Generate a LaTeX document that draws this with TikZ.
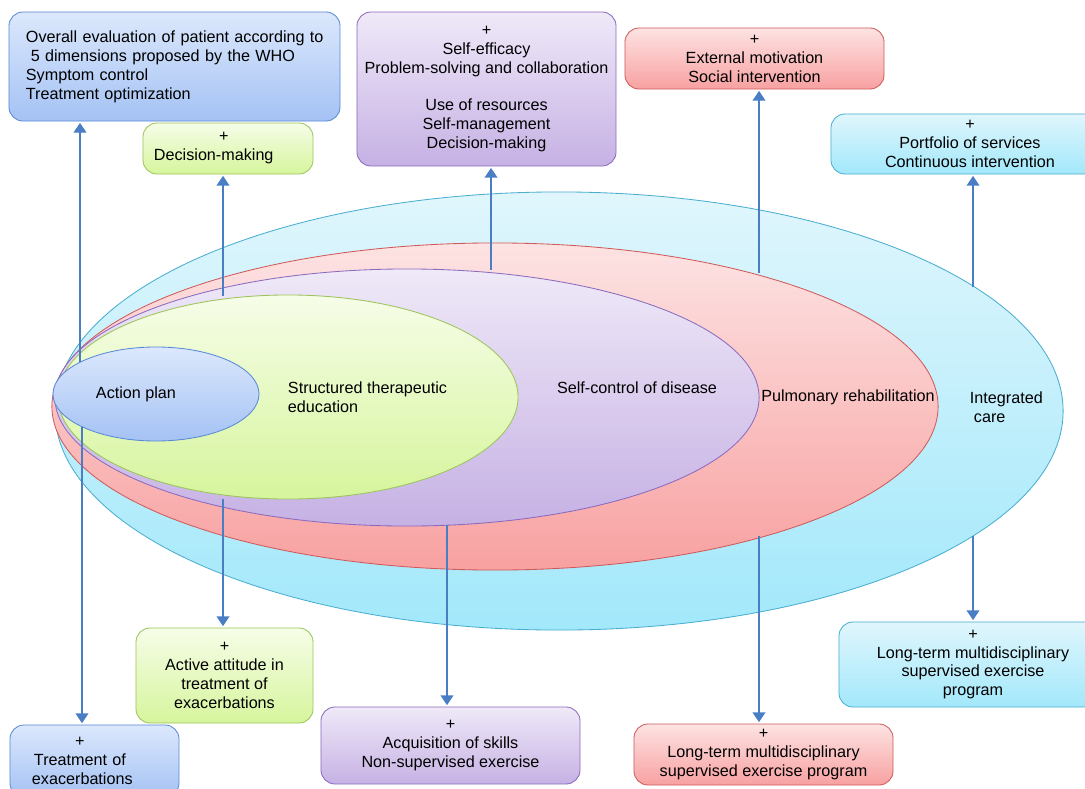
\documentclass[tikz,border=0pt]{standalone}
\usepackage{fontspec}
\setmainfont{Liberation Sans}
\usepackage{xcolor}
\usepackage{tikz}
\usetikzlibrary{shapes.geometric}
\usetikzlibrary{arrows.meta}

\definecolor{cyanline}{HTML}{4AAED0}
\definecolor{cyantop}{HTML}{E0F6FC}
\definecolor{cyanbot}{HTML}{A2E8FB}
\definecolor{redline}{HTML}{D05A5A}
\definecolor{redtop}{HTML}{FDE3E3}
\definecolor{redbot}{HTML}{F8A1A1}
\definecolor{purpline}{HTML}{8A6BBD}
\definecolor{purptop}{HTML}{EFE9F8}
\definecolor{purpbot}{HTML}{C6B1E4}
\definecolor{greenline}{HTML}{9CC45A}
\definecolor{greentop}{HTML}{F6FDE8}
\definecolor{greenbot}{HTML}{D6F59C}
\definecolor{blueline}{HTML}{5A8AD6}
\definecolor{bluetop}{HTML}{DCE8FC}
\definecolor{bluebot}{HTML}{A4C2F4}
\definecolor{arrowblue}{HTML}{4A7EC4}

\begin{document}
\begin{tikzpicture}[x=0.025cm, y=-0.025cm,
        every node/.style={font=\fontsize{11.5}{13.5}\selectfont}]

        % one unit is one pixel of the picture, y runs downwards
        \tikzset{
            ring/.style={ellipse, draw=#1line, top color=#1top,
                bottom color=#1bot, line width=0.6pt, inner sep=0pt},
            infobox/.style={rectangle, rounded corners=0.35cm,
                draw=#1line, top color=#1top, bottom color=#1bot,
                line width=0.6pt, inner sep=0pt, align=center},
            arr/.style={draw=arrowblue, line width=1.2pt, shorten >=1pt,
                -{Triangle[width=9pt,length=7pt]}}
        }

        \useasboundingbox (0,0) rectangle (1085,789);

        % Nested ellipses, the largest first
        \begin{scope}
            \node[ring=cyan, minimum width=25.2cm, minimum height=10.95cm]
            (care) at (559,411) {};
            \node[ring=red, minimum width=22.15cm, minimum height=8.175cm]
            (rehab) at (495,406.5) {};
            \node[ring=purp, minimum width=17.6cm, minimum height=6.425cm]
            (selfctl) at (407,397.5) {};
            \node[ring=green, minimum width=11.5cm, minimum height=5.1cm]
            (edu) at (288,397) {};
            \node[ring=blue, minimum width=5.15cm, minimum height=2.35cm]
            (plan) at (156,394) {};

            \node (planlbl) at (136,394) {Action plan};
            \node (edulbl) [anchor=west, align=left] at (283,397.5)
            {Structured therapeutic\\education};
            \node (selfctllbl) at (637,388) {Self-control of disease};
            \node (rehablbl) at (848,397) {Pulmonary rehabilitation};
            \node (carelbl) [anchor=west, align=left] at (965,407.5)
            {Integrated\\\hspace*{0.1cm}care};
        \end{scope}

        % Boxes round the ellipses
        \node[infobox=blue, align=left, text width=7.425cm,
            minimum width=8.275cm, minimum height=2.725cm]
        (eval) at (174.5,66.5)
        {\mbox{Overall evaluation of patient according to}\\
        \hspace*{0.12cm}5 dimensions proposed by the WHO\\
        Symptom control\\Treatment optimization};
        \node[infobox=green, align=left, text width=3.7cm,
            minimum width=4.25cm, minimum height=1.275cm]
        (decide) at (228,148.5) {\hspace*{1.63cm}+\\Decision-making};
        \node[infobox=purp, minimum width=6.475cm, minimum height=3.85cm]
        (selfbox) at (486.5,89)
        {+\\Self-efficacy\\Problem-solving and collaboration\\[13.5pt]
        Use of resources\\Self-management\\Decision-making};
        \node[infobox=red, minimum width=6.475cm, minimum height=1.525cm]
        (motive) at (754.5,58.5) {+\\External motivation\\Social intervention};
        \node[infobox=cyan, minimum width=6.95cm, minimum height=1.5cm]
        (portfolio) at (970,144)
        {+\\Portfolio of services\\Continuous intervention};

        \node[infobox=green, minimum width=4.425cm, minimum height=2.375cm]
        (attitude) at (224.5,675.5)
        {+\\Active attitude in\\treatment of\\exacerbations};
        \node[infobox=blue, align=left, text width=4.225cm,
            minimum width=4.225cm, minimum height=1.8cm]
        (treat) at (94.5,761)
        {\hspace*{1.63cm}+\\\hspace*{0.6cm}Treatment of\\
        \hspace*{0.55cm}exacerbations};
        \node[infobox=purp, minimum width=6.475cm, minimum height=1.925cm]
        (skills) at (450.5,745.5)
        {+\\Acquisition of skills\\Non-supervised exercise};
        \node[infobox=red, minimum width=6.475cm, minimum height=1.525cm]
        (programred) at (763.5,754.5)
        {+\\Long-term multidisciplinary\\supervised exercise program};
        \node[infobox=cyan, minimum width=6.7cm, minimum height=2.125cm]
        (programcyan) at (973,664.5)
        {+\\Long-term multidisciplinary\\supervised exercise\\program};

        % Feet of the arrows on the ellipses
        \coordinate (evalfoot) at (80,362);
        \coordinate (treatfoot) at (82,427);
        \coordinate (decidefoot) at (223,296);
        \coordinate (attitudefoot) at (223,499);
        \coordinate (selffoot) at (491,270);
        \coordinate (skillsfoot) at (447,525);
        \coordinate (motivefoot) at (759,273);
        \coordinate (redfoot) at (759,536);
        \coordinate (portfoliofoot) at (973,287);
        \coordinate (cyanfoot) at (973,536);

        \begin{scope}[arr]
            \draw (evalfoot) -- (eval.south -| evalfoot);
            \draw (treatfoot) -- (treat.north -| treatfoot);
            \draw (decidefoot) -- (decide.south -| decidefoot);
            \draw (attitudefoot) -- (attitude.north -| attitudefoot);
            \draw (selffoot) -- (selfbox.south -| selffoot);
            \draw (skillsfoot) -- (skills.north -| skillsfoot);
            \draw (motivefoot) -- (motive.south -| motivefoot);
            \draw (redfoot) -- (programred.north -| redfoot);
            \draw (portfoliofoot) -- (portfolio.south -| portfoliofoot);
            \draw (cyanfoot) -- (programcyan.north -| cyanfoot);
        \end{scope}

        \end{tikzpicture}
\end{document}
